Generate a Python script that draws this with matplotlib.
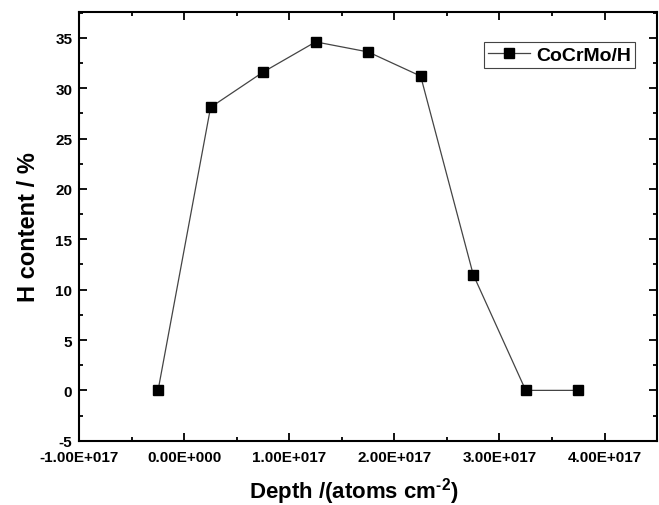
import matplotlib
matplotlib.use("Agg")
import matplotlib.pyplot as plt
from matplotlib.ticker import MultipleLocator, FuncFormatter

plt.rcParams['font.family'] = ['Liberation Sans', 'DejaVu Sans']
plt.rcParams['font.weight'] = 'bold'
plt.rcParams['axes.unicode_minus'] = False
plt.rcParams['mathtext.fontset'] = 'custom'
plt.rcParams['mathtext.rm'] = 'Liberation Sans:bold'
plt.rcParams['mathtext.default'] = 'rm'

# depth (atoms cm^-2) and hydrogen content (%)
depth = [-0.25e17, 0.25e17, 0.75e17, 1.25e17, 1.75e17, 2.25e17, 2.75e17, 3.25e17, 3.75e17]
h_content = [0.0, 28.1, 31.6, 34.6, 33.6, 31.2, 11.5, 0.0, 0.0]
series_label = "CoCrMo/H"


def origin_sci(v, pos):
    """ format like Origin: 1.00E+017 """
    if v == 0:
        return "0.00E+000"
    mant, ex = ("%.2E" % v).split("E")
    return "%sE%s%03d" % (mant, ex[0], abs(int(ex)))


fig = plt.figure(figsize=(6.59, 5.06), dpi=100)
ax = fig.add_axes([0.1203, 0.127, 0.997 - 0.1203, 0.974 - 0.127])

ax.plot(depth, h_content, color='#444444', lw=0.9, marker='s', markersize=7,
        markerfacecolor='black', markeredgecolor='black', label=series_label)

ax.set_xlim(-1e17, 4.5e17)
ax.set_ylim(-5, 37.55)
ax.xaxis.set_major_locator(MultipleLocator(1e17))
ax.xaxis.set_minor_locator(MultipleLocator(0.5e17))
ax.yaxis.set_major_locator(MultipleLocator(5))
ax.yaxis.set_minor_locator(MultipleLocator(2.5))
ax.xaxis.set_major_formatter(FuncFormatter(origin_sci))

ax.tick_params(which='both', direction='in', top=True, right=True, width=1.3,
               labelsize=11, pad=5)
ax.tick_params(axis='x', pad=7)
ax.tick_params(which='major', length=6)
ax.tick_params(which='minor', length=3)
ax.tick_params(axis='x', labeltop=False)
ax.tick_params(axis='y', labelright=False)
for sp in ax.spines.values():
    sp.set_linewidth(1.5)

xl = ax.set_xlabel(r"Depth /(atoms cm$^{\text{-2}}$)", fontsize=16, fontweight='bold')
xl.set_va('baseline')
ax.xaxis.set_label_coords(0.475, -0.133)
ax.set_ylabel("H content / %", fontsize=17, fontweight='bold', labelpad=11)

leg = ax.legend(loc='upper right', bbox_to_anchor=(0.962, 0.93), borderaxespad=0,
                fancybox=False, edgecolor='#444444', fontsize=14, handlelength=2.2,
                borderpad=0.2, handletextpad=0.3, framealpha=1)
leg.get_frame().set_linewidth(0.8)
for t in leg.get_texts():
    t.set_fontweight('bold')

fig.savefig("out.png", dpi=100)
